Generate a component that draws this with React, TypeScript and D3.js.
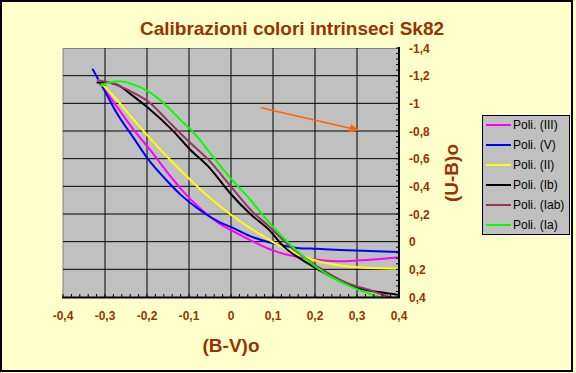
import React from "react";
import * as d3 from "d3";

// ---- Data ----
const xTickLabels = ["-0,4", "-0,3", "-0,2", "-0,1", "0", "0,1", "0,2", "0,3", "0,4"];
const xTickValues = [-0.4, -0.3, -0.2, -0.1, 0, 0.1, 0.2, 0.3, 0.4];
const yTickLabels = ["-1,4", "-1,2", "-1", "-0,8", "-0,6", "-0,4", "-0,2", "0", "0,2", "0,4"];
const yTickValues = [-1.4, -1.2, -1.0, -0.8, -0.6, -0.4, -0.2, 0, 0.2, 0.4];

const seriesNames = ["Poli. (III)", "Poli. (V)", "Poli. (II)", "Poli. (Ib)", "Poli. (Iab)", "Poli. (Ia)"];
const seriesColors = ["#FF00FF", "#0000FF", "#FFFF00", "#000000", "#993366", "#00FF00"];

const x_III = [-0.318, -0.272, -0.232, -0.193, -0.141, -0.113, -0.081, -0.05, -0.025, 0.002, 0.054, 0.101, 0.157, 0.205, 0.26, 0.3, 0.356, 0.4];
const y_III = [-1.17, -0.978, -0.81, -0.665, -0.461, -0.36, -0.262, -0.18, -0.125, -0.08, 0.002, 0.065, 0.11, 0.13, 0.142, 0.137, 0.125, 0.113];

const x_V = [-0.33, -0.298, -0.272, -0.232, -0.197, -0.157, -0.12, -0.081, -0.05, -0.025, 0.002, 0.054, 0.101, 0.157, 0.205, 0.26, 0.33, 0.4];
const y_V = [-1.25, -1.075, -0.93, -0.75, -0.595, -0.455, -0.34, -0.244, -0.18, -0.138, -0.103, -0.03, 0.012, 0.045, 0.052, 0.06, 0.068, 0.074];

const x_II = [-0.317, -0.272, -0.232, -0.197, -0.145, -0.097, -0.05, 0.0, 0.05, 0.101, 0.157, 0.205, 0.26, 0.32, 0.4];
const y_II = [-1.171, -1.026, -0.882, -0.761, -0.592, -0.448, -0.316, -0.195, -0.09, 0.005, 0.088, 0.14, 0.172, 0.188, 0.195];

const x_Ib = [-0.32, -0.3, -0.272, -0.232, -0.197, -0.141, -0.097, -0.05, -0.002, 0.046, 0.09, 0.125, 0.181, 0.237, 0.3, 0.356, 0.4];
const y_Ib = [-1.151, -1.15, -1.135, -1.05, -0.966, -0.81, -0.665, -0.53, -0.35, -0.2, -0.087, 0.034, 0.153, 0.25, 0.334, 0.366, 0.385];

const x_Iab = [-0.318, -0.29, -0.264, -0.224, -0.193, -0.153, -0.105, -0.054, 0.006, 0.054, 0.086, 0.141, 0.205, 0.276, 0.34, 0.372, 0.4];
const y_Iab = [-1.165, -1.15, -1.123, -1.063, -1.003, -0.882, -0.737, -0.593, -0.376, -0.208, -0.123, 0.034, 0.178, 0.298, 0.359, 0.395, 0.42];

const x_Ia = [-0.312, -0.288, -0.264, -0.232, -0.197, -0.161, -0.121, -0.081, -0.05, 0.002, 0.046, 0.078, 0.125, 0.181, 0.229, 0.284, 0.348, 0.38];
const y_Ia = [-1.123, -1.151, -1.159, -1.135, -1.086, -1.003, -0.882, -0.761, -0.641, -0.448, -0.303, -0.183, -0.027, 0.13, 0.238, 0.323, 0.395, 0.43];

const seriesX = [x_III, x_V, x_II, x_Ib, x_Iab, x_Ia];
const seriesY = [y_III, y_V, y_II, y_Ib, y_Iab, y_Ia];

// annotation arrow (data coords)
const arrowX = [0.071, 0.302];
const arrowY = [-0.968, -0.807];

const title = "Calibrazioni colori intrinseci Sk82";
const xTitle = "(B-V)o";
const yTitle = "(U-B)o";

export default function App() {
  const W = 576, H = 373;
  const L = 63, R = 399, T = 48, B = 297;
  const x = d3.scaleLinear().domain([-0.4, 0.4]).range([L, R]);
  const y = d3.scaleLinear().domain([-1.4, 0.4]).range([T, B]);
  const brown = "#993300";
  const font = "Arial, 'Liberation Sans', sans-serif";

  const line = d3
    .line<[number, number]>()
    .x((d) => x(d[0]))
    .y((d) => y(d[1]))
    .curve(d3.curveMonotoneX);

  const xMinor = d3.range(0, 41).map((i) => -0.4 + i * 0.02);
  const yMinor = d3.range(0, 46).map((i) => -1.4 + i * 0.04);

  return (
    <svg width={W} height={H} style={{ position: "absolute", left: 0, top: 0, display: "block" }}>
      <defs>
        <clipPath id="plotclip">
          <rect x={L} y={T} width={R - L} height={B - T} />
        </clipPath>
        <marker id="arrowhead" viewBox="0 0 10 10" refX="9" refY="5" markerWidth="6" markerHeight="6" orient="auto">
          <path d="M0,0 L10,5 L0,10 z" fill="#FF6600" />
        </marker>
      </defs>
      <rect x={0} y={0} width={W} height={H} fill="#FFFFCC" />
      <rect x={1} y={1} width={571} height={370} fill="none" stroke="#000" strokeWidth={2} />

      <text x={292} y={35} textAnchor="middle" fontFamily={font} fontWeight="bold" fontSize={19} fill={brown}>
        {title}
      </text>

      {/* plot area */}
      <rect x={L} y={T + 0.5} width={R - L} height={B - T} fill="#C0C0C0" stroke="#808080" strokeWidth={1} />
      {xTickValues.slice(1, -1).map((v, i) => (
        <line key={"gx" + i} x1={x(v)} x2={x(v)} y1={T} y2={B} stroke="#000" strokeWidth={1} />
      ))}
      {yTickValues.slice(1, -1).map((v, i) => (
        <line key={"gy" + i} x1={L} x2={R} y1={y(v)} y2={y(v)} stroke="#000" strokeWidth={1} />
      ))}

      {/* series */}
      <g clipPath="url(#plotclip)">
        {seriesX.map((xs, si) => {
          const pts: [number, number][] = xs.map((xv, i) => [xv, seriesY[si][i]]);
          return (
            <path key={"s" + si} d={line(pts) || ""} fill="none" stroke={seriesColors[si]} strokeWidth={2} strokeLinejoin="round" />
          );
        })}
      </g>

      {/* arrow */}
      <line
        x1={x(arrowX[0])}
        y1={y(arrowY[0])}
        x2={x(arrowX[1])}
        y2={y(arrowY[1])}
        stroke="#FF6600"
        strokeWidth={1.5}
        markerEnd="url(#arrowhead)"
      />

      {/* bottom axis */}
      <line x1={L - 1} x2={R + 1} y1={B + 0.5} y2={B + 0.5} stroke="#000" strokeWidth={2} />
      {xMinor.map((v, i) => (
        <line key={"xt" + i} x1={x(v)} x2={x(v)} y1={B - 3} y2={B} stroke="#000" strokeWidth={1} />
      ))}
      {xTickValues.map((v, i) => (
        <text key={"xl" + i} x={x(v)} y={320} textAnchor="middle" fontFamily={font} fontWeight="bold" fontSize={12} fill={brown}>
          {xTickLabels[i]}
        </text>
      ))}

      {/* right axis */}
      <line x1={R} x2={R} y1={T - 1} y2={B + 1} stroke="#000" strokeWidth={2} />
      {yMinor.map((v, i) => (
        <line key={"yt" + i} x1={R - 3} x2={R} y1={y(v)} y2={y(v)} stroke="#000" strokeWidth={1} />
      ))}
      {yTickValues.map((v, i) => (
        <text key={"yl" + i} x={409} y={y(v) + 4.5} textAnchor="start" fontFamily={font} fontWeight="bold" fontSize={12} fill={brown}>
          {yTickLabels[i]}
        </text>
      ))}

      <text x={231} y={352} textAnchor="middle" fontFamily={font} fontWeight="bold" fontSize={19} fill={brown}>
        {xTitle}
      </text>
      <text transform="translate(458,173) rotate(-90)" textAnchor="middle" fontFamily={font} fontWeight="bold" fontSize={19} fill={brown}>
        {yTitle}
      </text>

      {/* legend */}
      <rect x={482.5} y={115.5} width={87} height={119} fill="#C0C0C0" stroke="#000" strokeWidth={1} />
      {seriesNames.map((n, i) => {
        const ry = 125 + i * 20;
        return (
          <g key={"lg" + i}>
            <line x1={486} x2={511} y1={ry} y2={ry} stroke={seriesColors[i]} strokeWidth={2} />
            <text x={513} y={ry + 4} fontFamily={font} fontSize={12} fill="#000">
              {n}
            </text>
          </g>
        );
      })}
    </svg>
  );
}
